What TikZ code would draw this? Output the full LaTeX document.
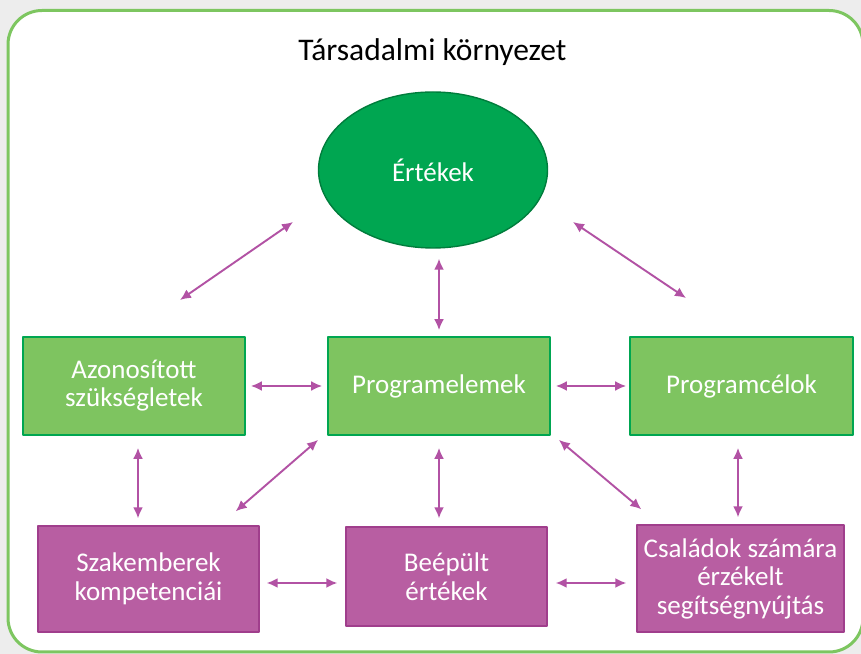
\documentclass[tikz,border=0pt]{standalone}
\usepackage{fontspec}
\setmainfont{Carlito}
\usetikzlibrary{arrows.meta,shapes.geometric}
\definecolor{framegreen}{RGB}{125,198,96}
\definecolor{darkgreen}{RGB}{0,166,81}
\definecolor{ovalline}{RGB}{0,125,60}
\definecolor{boxgreen}{RGB}{126,196,96}
\definecolor{boxpurple}{RGB}{184,94,162}
\definecolor{purpleline}{RGB}{160,62,140}
\definecolor{linkpurple}{RGB}{178,82,164}
\begin{document}
\begin{tikzpicture}[>={Latex[length=11bp,width=10bp]},line join=bevel,
  greenbox/.style={draw=darkgreen,line width=1.8bp,fill=boxgreen,text=white,inner sep=0pt,align=center,
    font=\fontsize{27bp}{28bp}\selectfont},
  purplebox/.style={draw=purpleline,line width=1.4bp,fill=boxpurple,text=white,inner sep=0pt,align=center,
    font=\fontsize{27bp}{28.5bp}\selectfont},
  link/.style={linkpurple,line width=1.9bp,<->},]
%%
\useasboundingbox (0bp,0bp) rectangle (861bp,654bp);
\fill [black!7] (0bp,0bp) rectangle (861bp,654bp);
\draw [framegreen,line width=3bp,fill=white,rounded corners=34bp] (8bp,2bp) rectangle (863bp,643.5bp);
%
\node (Tarsadalmi) at (432.5bp,593bp) [anchor=base,font=\fontsize{31.5bp}{36bp}\selectfont] {Társadalmi környezet};
\node (Ertekek) at (433bp,484bp) [ellipse,draw=ovalline,line width=1.4bp,fill=darkgreen,text=white,
  minimum width=229bp,minimum height=156bp,inner sep=0pt,font=\fontsize{27bp}{28bp}\selectfont] {Értékek};
  \node (Azonositott) at (134bp,268bp) [greenbox,minimum width=222bp,minimum height=98bp] {Azonosított\\ szükségletek};
  \node (Programelemek) at (439bp,268bp) [greenbox,minimum width=222bp,minimum height=98bp] {Programelemek};
  \node (Programcelok) at (741.5bp,268bp) [greenbox,minimum width=223bp,minimum height=98bp] {Programcélok};
  \node (Szakemberek) at (148.5bp,75bp) [purplebox,minimum width=221bp,minimum height=106bp] {Szakemberek\\ kompetenciái};
  \node (Beepult) at (446.5bp,77.5bp) [purplebox,minimum width=201bp,minimum height=99bp] {Beépült\\ értékek};
  \node (Csaladok) at (740.5bp,75.5bp) [purplebox,minimum width=207bp,minimum height=107bp] {Családok számára\\ érzékelt\\ segítségnyújtás};
%
  \coordinate (leftlow) at (180bp,354bp);
  \coordinate (lefthigh) at (293bp,432bp);
  \coordinate (righthigh) at (573bp,432bp);
  \coordinate (rightlow) at (686bp,356bp);
  \draw [link] (leftlow) -- (lefthigh);
  \draw [link] (righthigh) -- (rightlow);
  \draw [link,shorten <=10bp,shorten >=6bp] (Programelemek.north |- Ertekek.south) -- (Programelemek.north);
  \draw [link,shorten <=5bp,shorten >=5bp] (Azonositott) -- (Programelemek);
  \draw [link,shorten <=5bp,shorten >=3bp] (Programelemek) -- (Programcelok);
  \draw [link,shorten <=12bp,shorten >=7bp] ([xshift=4bp]Azonositott.south) -- ([xshift=4bp]Azonositott.south |- Szakemberek.north);
  \draw [link,shorten <=12bp,shorten >=8bp] (Programelemek.south) -- (Programelemek.south |- Beepult.north);
  \draw [link,shorten <=12bp,shorten >=7bp] ([xshift=-3.5bp]Programcelok.south) -- ([xshift=-3.5bp]Programcelok.south |- Csaladok.north);
  \draw [link] ([shift={(-24bp,14bp)}]Szakemberek.north east) -- ([shift={(-9bp,-4bp)}]Programelemek.south west);
  \draw [link] ([shift={(8bp,-4bp)}]Programelemek.south east) -- ([shift={(5bp,15bp)}]Csaladok.north west);
  \draw [link,shorten <=7bp,shorten >=8bp] ([yshift=-4bp]Szakemberek.east) -- ([yshift=-4bp]Szakemberek.east -| Beepult.west);
  \draw [link,shorten <=8bp,shorten >=10bp] ([yshift=-6.5bp]Beepult.east) -- ([yshift=-6.5bp]Beepult.east -| Csaladok.west);
%
\end{tikzpicture}
\end{document}
